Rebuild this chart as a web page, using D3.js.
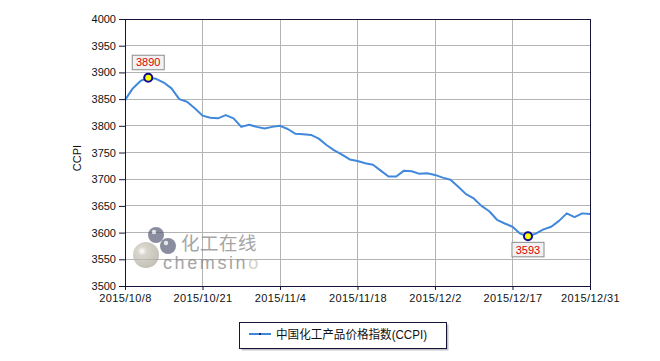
<!DOCTYPE html>
<html><head><meta charset="utf-8">
<script src="https://cdn.jsdelivr.net/npm/d3@7"></script>
<style>
html,body{margin:0;padding:0;background:#fff;}
svg{display:block;}
text{font-family:"Liberation Sans",Arial,"Noto Sans CJK SC",sans-serif;}
</style></head>
<body><svg id="c" width="660" height="361"></svg>
<script>
const seriesName = "中国化工产品价格指数(CCPI)";
const values = [3848,3870,3884,3890,3888,3881,3870,3850,3845,3833,
  3819,3815,3814,3820,3814,3798,3802,3798,3795,3798,
  3800,3794,3785,3784,3783,3776,3764,3754,3746,3737,
  3734,3730,3727,3716,3705,3705,3716,3715,3710,3711,
  3708,3703,3699,3686,3672,3664,3650,3640,3624,3617,
  3611,3598,3593,3598,3606,3611,3622,3636,3629,3636,
  3635];
const tickLabels = ["2015/10/8","2015/10/21","2015/11/4","2015/11/18","2015/12/2","2015/12/17","2015/12/31"];
const tickStep = 10;
const yTicks = [3500,3550,3600,3650,3700,3750,3800,3850,3900,3950,4000];

const svg = d3.select("#c");
const L=125, R=590, T=19, B=286;
const x = d3.scaleLinear().domain([0, values.length-1]).range([L, R]);
const y = d3.scaleLinear().domain([3500, 4000]).range([B, T]);
const gridC = "#b4b4b4", axisC = "#14143a";

// grid
svg.append("g").selectAll("line").data(yTicks).join("line")
  .attr("x1",L).attr("x2",R).attr("y1",d=>y(d)).attr("y2",d=>y(d))
  .attr("stroke",gridC).attr("stroke-width",1).attr("shape-rendering","crispEdges");
svg.append("g").selectAll("line").data(tickLabels).join("line")
  .attr("x1",(d,i)=>x(i*tickStep)).attr("x2",(d,i)=>x(i*tickStep)).attr("y1",T).attr("y2",B)
  .attr("stroke",gridC).attr("stroke-width",1).attr("shape-rendering","crispEdges");

// watermark
const wm = svg.append("g").attr("opacity",0.7);
const rg = svg.append("defs").append("radialGradient").attr("id","wg").attr("cx","35%").attr("cy","35%").attr("r","70%");
rg.append("stop").attr("offset","0%").attr("stop-color","#ffffff");
rg.append("stop").attr("offset","25%").attr("stop-color","#c8c4b8");
rg.append("stop").attr("offset","100%").attr("stop-color","#aaa698");
wm.append("circle").attr("cx",146).attr("cy",255).attr("r",13).attr("fill","url(#wg)");
wm.append("circle").attr("cx",156).attr("cy",235).attr("r",8).attr("fill","#5a5c78");
wm.append("circle").attr("cx",168).attr("cy",246).attr("r",8).attr("fill","#5a5c78");
wm.append("circle").attr("cx",154).attr("cy",232).attr("r",2.2).attr("fill","#ddd");
wm.append("circle").attr("cx",166).attr("cy",243).attr("r",2.2).attr("fill","#ddd");
wm.append("text").attr("x",181).attr("y",249.5).attr("font-size",18.5).attr("letter-spacing",0.5).attr("fill","#808080")
  .attr("font-family","Noto Sans CJK SC").text("化工在线");
const cs = wm.append("text").attr("x",163).attr("y",269).attr("font-size",18).attr("letter-spacing",2.6).attr("fill","#808080");
cs.append("tspan").text("chemsin");
cs.append("tspan").attr("fill","#c4c0b4").text("o");

// line
const line = d3.line().x((d,i)=>x(i)).y(d=>y(d));
svg.append("path").datum(values).attr("d",line).attr("fill","none")
  .attr("stroke","#4088dc").attr("stroke-width",2).attr("stroke-linejoin","round");

// frame
svg.append("rect").attr("x",L).attr("y",T).attr("width",R-L).attr("height",B-T)
  .attr("fill","none").attr("stroke",axisC).attr("stroke-width",1).attr("shape-rendering","crispEdges");

// y axis
const ya = svg.append("g").attr("transform",`translate(${L},0)`)
  .call(d3.axisLeft(y).tickValues(yTicks).tickSize(6).tickPadding(3).tickFormat(d3.format("d")));
ya.select(".domain").attr("stroke",axisC);
ya.selectAll(".tick line").attr("stroke",axisC);
ya.selectAll("text").attr("font-size",11).attr("fill","#111").attr("font-family","Liberation Sans,Arial");

// x axis
const xa = svg.append("g").attr("transform",`translate(0,${B})`)
  .call(d3.axisBottom(x).tickValues(tickLabels.map((d,i)=>i*tickStep)).tickSize(4).tickPadding(4)
    .tickFormat((d)=>tickLabels[d/tickStep]));
xa.select(".domain").attr("stroke",axisC);
xa.selectAll(".tick line").attr("stroke",axisC);
xa.selectAll("text").attr("font-size",11).attr("fill","#111").attr("letter-spacing",0.4).attr("font-family","Liberation Sans,Arial");

// y title
svg.append("text").attr("transform","translate(81,158) rotate(-90)").attr("text-anchor","middle")
  .attr("font-size",11).attr("fill","#111").text("CCPI");

// max / min markers
const iMax = d3.maxIndex(values), iMin = d3.minIndex(values);
function mark(i, above){
  const cx = x(i), cy = y(values[i]);
  const g = svg.append("g");
  const bw = 32, bh = 14.5;
  const by = above ? cy-8-bh : cy+6;
  g.append("rect").attr("x",cx-bw/2).attr("y",by).attr("width",bw).attr("height",bh)
    .attr("fill","#f2f2f2").attr("stroke","#8c8c8c").attr("stroke-width",1);
  g.append("text").attr("x",cx).attr("y",by+bh/2+4).attr("text-anchor","middle")
    .attr("font-size",11).attr("fill","#dd0000").text(values[i]);
  g.append("circle").attr("cx",cx).attr("cy",cy).attr("r",4).attr("fill","#ffff00")
    .attr("stroke","#0a0a96").attr("stroke-width",2);
}
mark(iMax,true);
mark(iMin,false);

// legend
const lg = svg.append("g");
lg.append("rect").attr("x",241.5).attr("y",324.5).attr("width",207).attr("height",26).attr("fill","#9a9a9a").attr("opacity",0.6);
lg.append("rect").attr("x",239.5).attr("y",322.5).attr("width",207).attr("height",26)
  .attr("fill","#fff").attr("stroke",axisC).attr("stroke-width",1);
lg.append("line").attr("x1",249).attr("x2",271).attr("y1",334).attr("y2",334).attr("stroke","#4088dc").attr("stroke-width",2);
lg.append("rect").attr("x",259).attr("y",333).attr("width",2).attr("height",2).attr("fill","#1a2a60");
lg.append("text").attr("x",276).attr("y",338.5).attr("font-size",12).attr("fill","#111")
  .attr("textLength",151).attr("lengthAdjust","spacingAndGlyphs").text(seriesName);
</script></body></html>
